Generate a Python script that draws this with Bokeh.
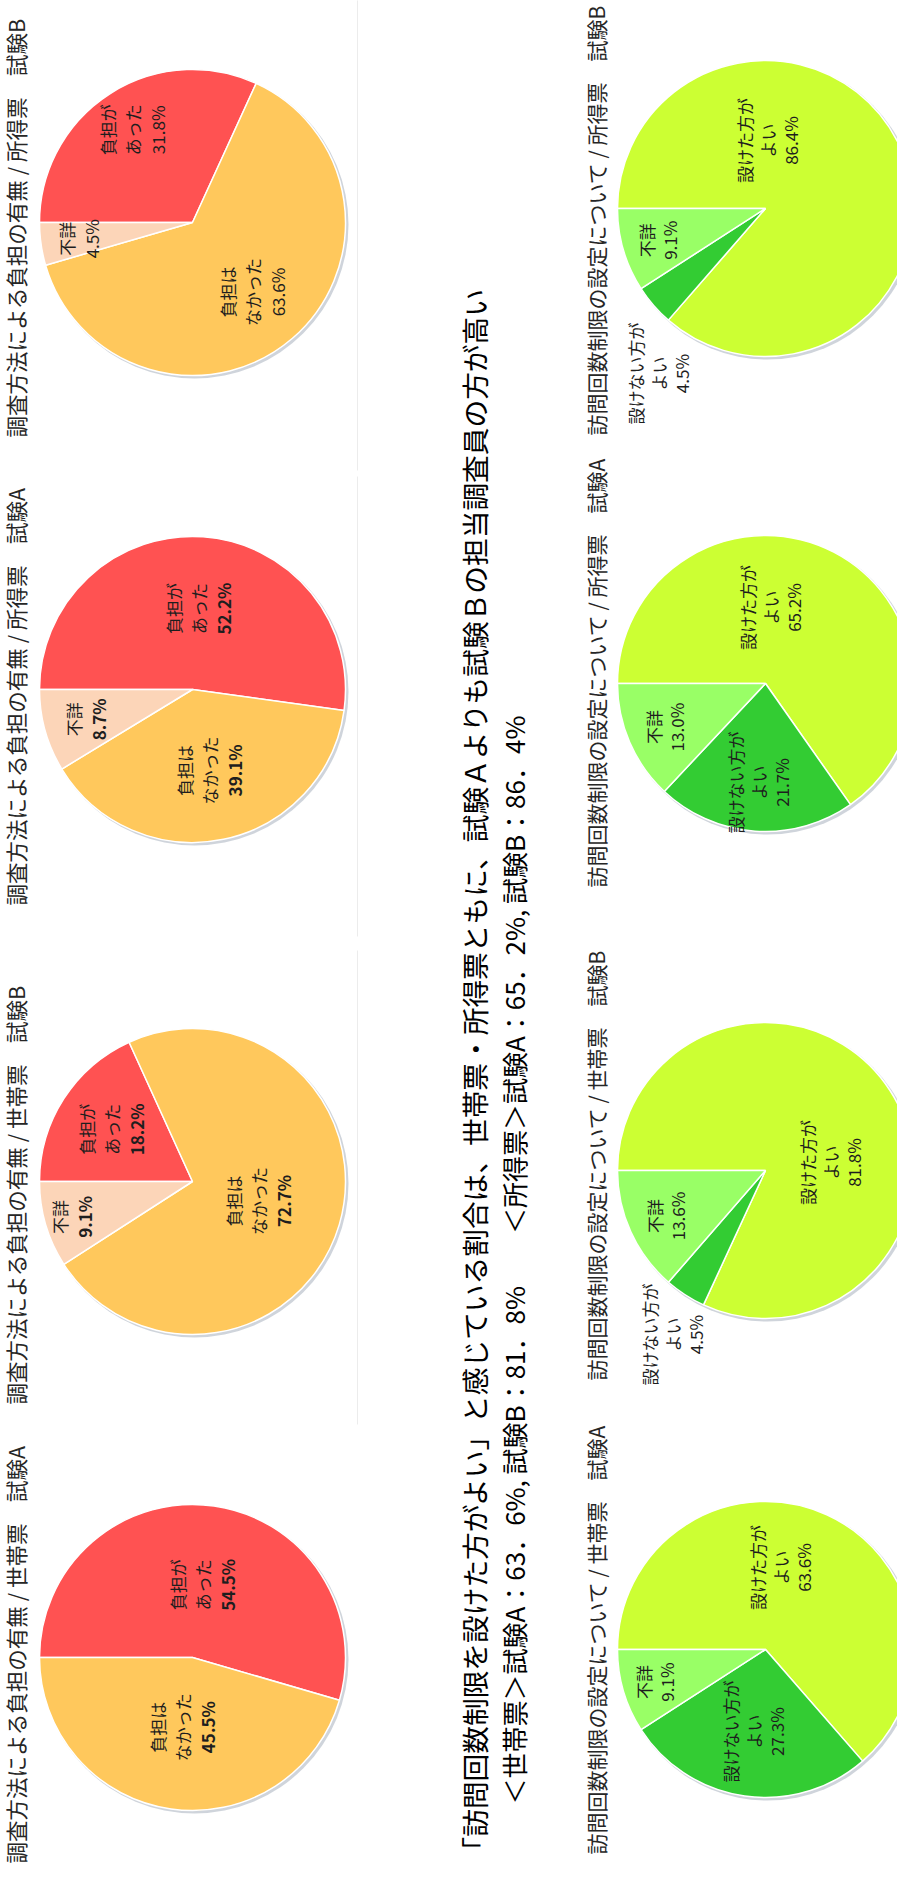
import math
from bokeh.plotting import figure
from bokeh.models import Range1d, ColumnDataSource
from bokeh.core.properties import value
from bokeh.embed import file_html
from bokeh.resources import INLINE

# ---------------- data ----------------
BURDEN_LABELS = ["負担が\nあった", "負担は\nなかった", "不詳"]
LIMIT_LABELS = ["設けた方が\nよい", "設けない方が\nよい", "不詳"]

burden_hh_A = [54.5, 45.5, 0.0]
burden_hh_B = [18.2, 72.7, 9.1]
burden_inc_A = [52.2, 39.1, 8.7]
burden_inc_B = [31.8, 63.6, 4.5]

limit_hh_A = [63.6, 27.3, 9.1]
limit_hh_B = [81.8, 4.5, 13.6]
limit_inc_A = [65.2, 21.7, 13.0]
limit_inc_B = [86.4, 4.5, 9.1]

BURDEN_TITLES = ["調査方法による負担の有無 / 世帯票　試験A",
                 "調査方法による負担の有無 / 世帯票　試験B",
                 "調査方法による負担の有無 / 所得票　試験A",
                 "調査方法による負担の有無 / 所得票　試験B"]
LIMIT_TITLES = ["訪問回数制限の設定について / 世帯票　試験A",
                "訪問回数制限の設定について / 世帯票　試験B",
                "訪問回数制限の設定について / 所得票　試験A",
                "訪問回数制限の設定について / 所得票　試験B"]

HEADLINE = "「訪問回数制限を設けた方がよい」と感じている割合は、世帯票・所得票ともに、試験Ａよりも試験Ｂの担当調査員の方が高い"
SUMMARY = "＜世帯票＞試験A：63．6%, 試験B：81．8%　　＜所得票＞試験A：65．2%, 試験B：86．4%"

# ---------------- layout / style ----------------
BURDEN_COLORS = ["#FF5252", "#FFC85C", "#FCD5B8"]
LIMIT_COLORS = ["#CCFF33", "#33CC33", "#99FF66"]
FONT = "Noto Sans CJK JP"

W, H = 897, 1865
PAGE_H = 1881


def Y(yref):
    """reference page row -> data y (page is photographed with an 8px margin)"""
    return PAGE_H - yref


TOP_CX, TOP_R = 200, 153
BOT_CX, BOT_R = 773, 148
TOP_CY = [1665, 1189, 697, 230]
BOT_CY = [1657, 1178, 691, 216]
TOP_TITLE_X, TOP_TITLE_Y = 23, [1871, 1412, 913, 445]
BOT_TITLE_X, BOT_TITLE_Y = 603, [1862, 1388, 895, 443]

# radial position of each slice label (fraction of radius)
TOP_LABEL_R = [[0.48, 0.46, 0.8], [0.63, 0.45, 0.82], [0.53, 0.54, 0.72], [0.72, 0.6, 0.75]]
BOT_LABEL_R = [[0.6, 0.56, 0.78], [0.5, 1.3, 0.74], [0.6, 0.67, 0.74], [0.5, 1.3, 0.76]]
# labels that were moved by hand in the original (screen offsets from pie centre)
BOT_NUDGE = {(0, 0): (15, -82), (1, 0): (65, -8), (1, 1): (-93, 164),
             (2, 0): (5, -76), (3, 0): (2, -68), (3, 1): (-107, 165)}
TOP_BOLD = [True, True, True, False]

p = figure(width=W, height=H, output_backend="svg", toolbar_location=None,
           x_range=Range1d(8, 8 + W), y_range=Range1d(8, 8 + H),
           x_axis_location=None, y_axis_location=None, min_border=0)
p.grid.visible = False
p.outline_line_color = None
p.background_fill_color = "white"
p.border_fill_color = "white"

# faint panel frames
p.segment(x0=[365, 365, 365], y0=[Y(0), Y(484), Y(958)],
          x1=[365, 365, 365], y1=[Y(478), Y(944), Y(1432)],
          line_color="#ECECEC", line_width=1)

ROT = math.pi / 2


def draw_pie(values, labels, colors, cx, cy_ref, r, label_r, nudge, bold, line_gap):
    cy = Y(cy_ref)
    total = sum(values)
    # soft shadow
    p.circle(x=[cx + 2], y=[cy - 2], radius=r + 1, fill_color="#A7B0BE",
             fill_alpha=0.55, line_color=None)
    starts, ends, cols = [], [], []
    cum = 0.0
    mids = []
    for v, c in zip(values, colors):
        c0 = cum / total
        cum += v
        c1 = cum / total
        mids.append(math.pi - math.pi * (c0 + c1))
        if v <= 0:
            continue
        # clockwise from "12 o'clock" of the original page, which is rotated 90° ccw
        starts.append(math.pi - 2 * math.pi * c1)
        ends.append(math.pi - 2 * math.pi * c0)
        cols.append(c)
    src = ColumnDataSource(dict(x=[cx] * len(starts), y=[cy] * len(starts),
                                start=starts, end=ends, color=cols))
    p.wedge(x="x", y="y", radius=r, start_angle="start", end_angle="end",
            direction="anticlock", fill_color="color", line_color="white",
            line_width=1.5, source=src)
    for i, (v, lab) in enumerate(zip(values, labels)):
        if v <= 0:
            continue
        if i in nudge:
            dx, dy = nudge[i]
            lx, ly = cx + dx, cy - dy
        else:
            d = label_r[i] * r
            lx, ly = cx + d * math.cos(mids[i]), cy + d * math.sin(mids[i])
        lines = lab.split("\n") + [f"{v:.1f}%"]
        n = len(lines)
        for k, t in enumerate(lines):
            off = (k - (n - 1) / 2) * line_gap
            is_pct = (k == n - 1)
            p.text(x=[lx + off], y=[ly], text=[t], angle=ROT,
                   text_align="center", text_baseline="middle",
                   text_font=value(FONT), text_font_size="17px",
                   text_color="#1E1E1E",
                   text_font_style="bold" if (bold and is_pct) else "normal")


top_data = [burden_hh_A, burden_hh_B, burden_inc_A, burden_inc_B]
bot_data = [limit_hh_A, limit_hh_B, limit_inc_A, limit_inc_B]

for j, vals in enumerate(top_data):
    draw_pie(vals, BURDEN_LABELS, BURDEN_COLORS, TOP_CX, TOP_CY[j], TOP_R,
             TOP_LABEL_R[j], {}, TOP_BOLD[j], 25)
    p.text(x=[TOP_TITLE_X], y=[Y(TOP_TITLE_Y[j])], text=[BURDEN_TITLES[j]], angle=ROT,
           text_align="left", text_baseline="middle", text_font=value(FONT),
           text_font_size="21.5px", text_color="#262626")

for j, vals in enumerate(bot_data):
    nud = {k[1]: v for k, v in BOT_NUDGE.items() if k[0] == j}
    draw_pie(vals, LIMIT_LABELS, LIMIT_COLORS, BOT_CX, BOT_CY[j], BOT_R,
             BOT_LABEL_R[j], nud, False, 23)
    p.text(x=[BOT_TITLE_X], y=[Y(BOT_TITLE_Y[j])], text=[LIMIT_TITLES[j]], angle=ROT,
           text_align="left", text_baseline="middle", text_font=value(FONT),
           text_font_size="21px", text_color="#262626")

p.text(x=[481], y=[Y(1872)], text=[HEADLINE], angle=ROT, text_align="left",
       text_baseline="middle", text_font=value(FONT), text_font_size="27.7px",
       text_color="#000000")
p.text(x=[521], y=[Y(1812)], text=[SUMMARY], angle=ROT, text_align="left",
       text_baseline="middle", text_font=value(FONT), text_font_size="26px",
       text_color="#000000")

open("out.html", "w").write(file_html(p, INLINE))
